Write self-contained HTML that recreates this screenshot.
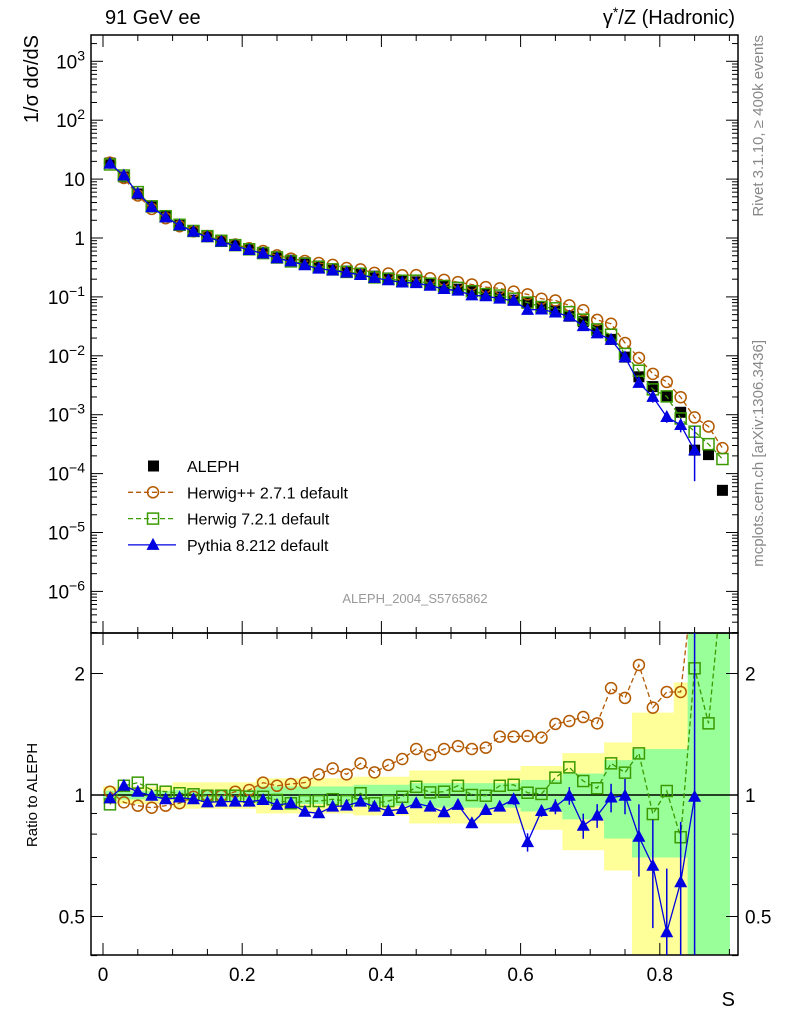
<!DOCTYPE html>
<html><head><meta charset="utf-8"><style>
html,body{margin:0;padding:0;background:#fff;width:786px;height:1024px;overflow:hidden;}
svg{display:block;font-family:"Liberation Sans",sans-serif;}
</style></head><body>
<svg id="chart" width="786" height="1024" viewBox="0 0 786 1024"></svg>
<script>
// ---- data ----
const binCenters = [0.01,0.03,0.05,0.07,0.09,0.11,0.13,0.15,0.17,0.19,0.21,0.23,0.25,0.27,0.29,0.31,0.33,0.35,0.37,0.39,0.41,0.43,0.45,0.47,0.49,0.51,0.53,0.55,0.57,0.59,0.61,0.63,0.65,0.67,0.69,0.71,0.73,0.75,0.77,0.79,0.81,0.83,0.85,0.87,0.89];
const alephValues = [18.7,10.9,5.6,3.35,2.3,1.66,1.31,1.08,0.9,0.76,0.65,0.56,0.48,0.42,0.38,0.335,0.30,0.275,0.245,0.225,0.21,0.19,0.18,0.165,0.15,0.135,0.125,0.112,0.1,0.088,0.079,0.067,0.058,0.047,0.038,0.027,0.019,0.0095,0.0044,0.003,0.002,0.0011,0.00025,0.00021,0.000052];
const herwigPPRatio = [1.019,0.959,0.941,0.930,0.941,0.954,0.99,0.996,0.996,1.019,1.029,1.073,1.054,1.065,1.073,1.125,1.164,1.125,1.198,1.138,1.187,1.228,1.30,1.256,1.30,1.322,1.30,1.31,1.395,1.395,1.40,1.387,1.50,1.525,1.56,1.505,1.84,1.74,2.10,1.646,1.80,1.80,3.6,3.0,5.2];
const herwig7Ratio = [0.948,1.054,1.073,1.029,1.019,1.01,1.004,0.996,0.996,0.996,0.99,0.99,0.972,0.954,0.966,0.966,0.976,0.966,1.01,0.954,0.966,0.99,1.048,1.015,1.019,1.054,1.0,0.996,1.054,1.06,1.013,1.006,1.104,1.171,1.083,1.039,1.198,1.136,1.268,0.897,1.023,0.786,2.06,1.505,3.4];
const pythiaRatio = [0.981,1.054,1.019,0.996,0.976,0.986,0.976,0.959,0.963,0.963,0.963,0.972,0.945,0.954,0.909,0.901,0.936,0.941,0.963,0.936,0.913,0.923,0.954,0.936,0.906,0.945,0.851,0.918,0.936,0.976,0.764,0.913,0.936,0.996,0.839,0.889,0.986,0.996,0.788,0.668,0.457,0.608,0.99];
const pythiaErr = [0.01,0.01,0.01,0.01,0.01,0.01,0.01,0.01,0.01,0.01,0.01,0.01,0.01,0.01,0.01,0.015,0.015,0.015,0.015,0.015,0.02,0.02,0.02,0.02,0.02,0.025,0.02,0.025,0.025,0.03,0.04,0.03,0.04,0.05,0.06,0.06,0.08,0.1,0.16,0.2,0.2,0.25,1.6];
const yellowBand = [0.05,0.05,0.05,0.05,0.05,0.075,0.075,0.075,0.075,0.075,0.075,0.1,0.1,0.1,0.1,0.1,0.1,0.1,0.11,0.11,0.11,0.11,0.15,0.15,0.15,0.15,0.15,0.15,0.15,0.15,0.18,0.18,0.18,0.27,0.27,0.27,0.35,0.35,0.6,0.6,0.6,0.9,0,0,0];
const greenBand = [0.025,0.025,0.025,0.025,0.025,0.03,0.03,0.03,0.03,0.03,0.03,0.05,0.05,0.05,0.05,0.05,0.05,0.05,0.06,0.06,0.06,0.06,0.07,0.07,0.07,0.07,0.07,0.07,0.07,0.07,0.09,0.09,0.09,0.13,0.13,0.13,0.22,0.22,0.3,0.3,0.3,0.3,5,5,5];
const mainYTicks = [3,2,1,0,-1,-2,-3,-4,-5,-6];
const xTicks = [0,0.2,0.4,0.6,0.8];
const ratioTicks = [2,1,0.5];

// ---- axes ----
const L=91,R=738,T=35,MB=633,RB=955;
const xs = s => 103 + 696*s;
const ym = v => 238 - 58.9*Math.log10(v);
const yr = r => 795 - 121.5*Math.log2(r);
const NS='http://www.w3.org/2000/svg';
const svg=document.getElementById('chart');
function mk(tag,attrs,parent){const e=document.createElementNS(NS,tag);for(const k in attrs)e.setAttribute(k,attrs[k]);(parent||svg).appendChild(e);return e;}
function txt(x,y,s,attrs,parent){const e=mk('text',Object.assign({x:x,y:y},attrs||{}),parent);e.textContent=s;return e;}

const defs=mk('defs',{});
const c1=mk('clipPath',{id:'cm'},defs);mk('rect',{x:L,y:T,width:R-L,height:MB-T},c1);
const c2=mk('clipPath',{id:'cr'},defs);mk('rect',{x:L,y:MB,width:R-L,height:RB-MB},c2);

// ratio bands
const bandG=mk('g',{'clip-path':'url(#cr)'});


binCenters.forEach((s,i)=>{
  const x0=xs(s-0.01),x1=xs(s+0.01);
  if(yellowBand[i]>0){const lo=Math.max(1-yellowBand[i],0.3);
    const r=mk('rect',{x:x0,y:yr(1+yellowBand[i]),width:x1-x0+0.5,height:yr(lo)-yr(1+yellowBand[i]),fill:'#ffff99'},bandG);
    }
});
binCenters.forEach((s,i)=>{
  const x0=xs(s-0.01),x1=xs(s+0.01);const lo=Math.max(1-greenBand[i],0.3);
  const r=mk('rect',{x:x0,y:yr(1+greenBand[i]),width:x1-x0+0.5,height:yr(lo)-yr(1+greenBand[i]),fill:'#99ff99'},bandG);
  
});
mk('line',{x1:L,x2:R,y1:yr(1),y2:yr(1),stroke:'#000','stroke-width':1.5});

// frames
const f1=mk('rect',{x:L,y:T,width:R-L,height:MB-T,fill:'none',stroke:'#000','stroke-width':1.5});

const f2=mk('rect',{x:L,y:MB,width:R-L,height:RB-MB,fill:'none',stroke:'#000','stroke-width':1.5});


// x ticks
for(let k=0;k<=18;k++){const s=k*0.05;const x=xs(s);if(x>R)break;const len=(k%4==0)?12:6;
  [[T,T+len],[MB,MB-len],[MB,MB+len],[RB,RB-len]].forEach(p=>mk('line',{x1:x,x2:x,y1:p[0],y2:p[1],stroke:'#000','stroke-width':1}));}
xTicks.forEach(s=>{const t=txt(xs(s),981,s===0?'0':s.toFixed(1),{'font-size':19,'text-anchor':'middle'});
  });
const xl=txt(735,1006,'S',{'font-size':20,'text-anchor':'end'});

// main y ticks
for(let d=-7;d<=3;d++){for(let m=1;m<=9;m++){const v=m*Math.pow(10,d);const y=ym(v);if(y<T||y>MB)continue;const len=m==1?12:6;
  mk('line',{x1:L,x2:L+len,y1:y,y2:y,stroke:'#000'});mk('line',{x1:R,x2:R-len,y1:y,y2:y,stroke:'#000'});}}
mainYTicks.forEach(d=>{const y=ym(Math.pow(10,d))+7;let t;
  if(d===0){t=txt(85,y,'1',{'font-size':19,'text-anchor':'end'});}
  else if(d===1){t=txt(85,y,'10',{'font-size':19,'text-anchor':'end'});}
  else {t=txt(85,y,'',{'font-size':19,'text-anchor':'end'});
    const a=mk('tspan',{},t);a.textContent='10';const b=mk('tspan',{dy:-8,'font-size':14},t);b.textContent=String(d).replace('-','−');}
  });
const yt=txt(0,0,'1/σ  dσ/dS',{'font-size':20,'text-anchor':'end',transform:'translate(38,35) rotate(-90)'});


// ratio ticks
[0.4,0.5,0.6,0.7,0.8,0.9,1,2].forEach(r=>{const y=yr(r);const len=(r==1||r==2||r==0.5)?12:6;
  mk('line',{x1:L,x2:L+len,y1:y,y2:y,stroke:'#000'});mk('line',{x1:R,x2:R-len,y1:y,y2:y,stroke:'#000'});});
ratioTicks.forEach(r=>{const a=txt(85,yr(r)+7,String(r),{'font-size':19,'text-anchor':'end'});
  const b=txt(745,yr(r)+7,String(r),{'font-size':19});});
const rt=txt(0,0,'Ratio to ALEPH',{'font-size':15,'text-anchor':'middle',transform:'translate(37,795) rotate(-90)'});


// titles
const t1=txt(105,24,'91 GeV ee',{'font-size':20});
const t2=txt(735,24,'',{'font-size':20,'text-anchor':'end'});
(function(){const a=mk('tspan',{},t2);a.textContent='γ';const b=mk('tspan',{dy:-7,'font-size':14},t2);b.textContent='*';const c=mk('tspan',{dy:7},t2);c.textContent='/Z (Hadronic)';})();
const s1=txt(0,0,'Rivet 3.1.10, ≥ 400k events',{'font-size':15,fill:'#888','text-anchor':'end',transform:'translate(763,35) rotate(-90)'});

const s2=txt(0,0,'mcplots.cern.ch [arXiv:1306.3436]',{'font-size':15,fill:'#888','text-anchor':'end',transform:'translate(763,340) rotate(-90)'});

const an=txt(415,603,'ALEPH_2004_S5765862',{'font-size':13,fill:'#999','text-anchor':'middle'});


function circ(g,x,y){mk('circle',{cx:x,cy:y,r:5.5,fill:'none',stroke:'#b35900','stroke-width':1.5},g);}
function sq(g,x,y){mk('rect',{x:x-5.5,y:y-5.5,width:11,height:11,fill:'none',stroke:'#3a9a00','stroke-width':1.5},g);}
function tri(g,x,y){mk('path',{d:`M${x},${y-7}L${x+6.5},${y+5}L${x-6.5},${y+5}Z`,fill:'#0000e0'},g);}

// main series
const gm=mk('g',{'clip-path':'url(#cm)'});
const gA=mk('g',{},gm);
binCenters.forEach((s,i)=>{const r=mk('rect',{x:xs(s)-5.5,y:ym(alephValues[i])-5.5,width:11,height:11,fill:'#000'},gA);
  });
function series(g,ratios,color,dash,marker){
  const pts=ratios.map((r,i)=>[xs(binCenters[i]),ym(alephValues[i]*r)]);
  mk('polyline',{points:pts.map(p=>p.join(',')).join(' '),fill:'none',stroke:color,'stroke-width':1.3,'stroke-dasharray':dash},g);
  pts.forEach(p=>marker(g,p[0],p[1]));}
const gHm=mk('g',{},gm);
series(gHm,herwigPPRatio,'#b35900','5,3',circ);
const gH7m=mk('g',{},gm);
series(gH7m,herwig7Ratio,'#3a9a00','5,3',sq);
const gPm=mk('g',{},gm);
pythiaRatio.forEach((r,i)=>{if(pythiaErr[i]>0.05){const v=alephValues[i]*r,e=v*pythiaErr[i];
  mk('line',{x1:xs(binCenters[i]),x2:xs(binCenters[i]),y1:ym(v+e),y2:ym(Math.max(v-e,v*0.3)),stroke:'#0000e0','stroke-width':1.5},gPm);}});
series(gPm,pythiaRatio,'#0000e0','none',tri);

// ratio series
const gr=mk('g',{'clip-path':'url(#cr)'});
function rseries(g,ratios,color,dash,marker){
  const pts=ratios.map((r,i)=>[xs(binCenters[i]),yr(r)]);
  mk('polyline',{points:pts.map(p=>p.join(',')).join(' '),fill:'none',stroke:color,'stroke-width':1.3,'stroke-dasharray':dash},g);
  pts.forEach(p=>marker(g,p[0],p[1]));}
const gHr=mk('g',{},gr);
rseries(gHr,herwigPPRatio,'#b35900','5,3',circ);
const gH7r=mk('g',{},gr);
rseries(gH7r,herwig7Ratio,'#3a9a00','5,3',sq);
const gPr=mk('g',{},gr);
pythiaRatio.forEach((r,i)=>{const x=xs(binCenters[i]);const e=pythiaErr[i];
  mk('line',{x1:x,x2:x,y1:yr(r+e),y2:yr(Math.max(r-e,0.2)),stroke:'#0000e0','stroke-width':1.5},gPr);});
rseries(gPr,pythiaRatio,'#0000e0','none',tri);

// legend
const lg=mk('g',{});
const entries=[['ALEPH',null],['Herwig++ 2.7.1 default','hpp'],['Herwig 7.2.1 default','h7'],['Pythia 8.212 default','py']];
entries.forEach((en,k)=>{const y=466+k*26.3;const g=mk('g',{},lg);
  
  if(en[1]===null){mk('rect',{x:148,y:y-5.5,width:11,height:11,fill:'#000'},g);}
  else if(en[1]==='hpp'){mk('line',{x1:128,x2:176,y1:y,y2:y,stroke:'#b35900','stroke-dasharray':'5,3','stroke-width':1.3},g);circ(g,153,y);}
  else if(en[1]==='h7'){mk('line',{x1:128,x2:176,y1:y,y2:y,stroke:'#3a9a00','stroke-dasharray':'5,3','stroke-width':1.3},g);sq(g,153,y);}
  else {mk('line',{x1:128,x2:176,y1:y,y2:y,stroke:'#0000e0','stroke-width':1.3},g);tri(g,153,y);}
  txt(187,y+6,en[0],{'font-size':16},g);});
</script>
</body></html>
